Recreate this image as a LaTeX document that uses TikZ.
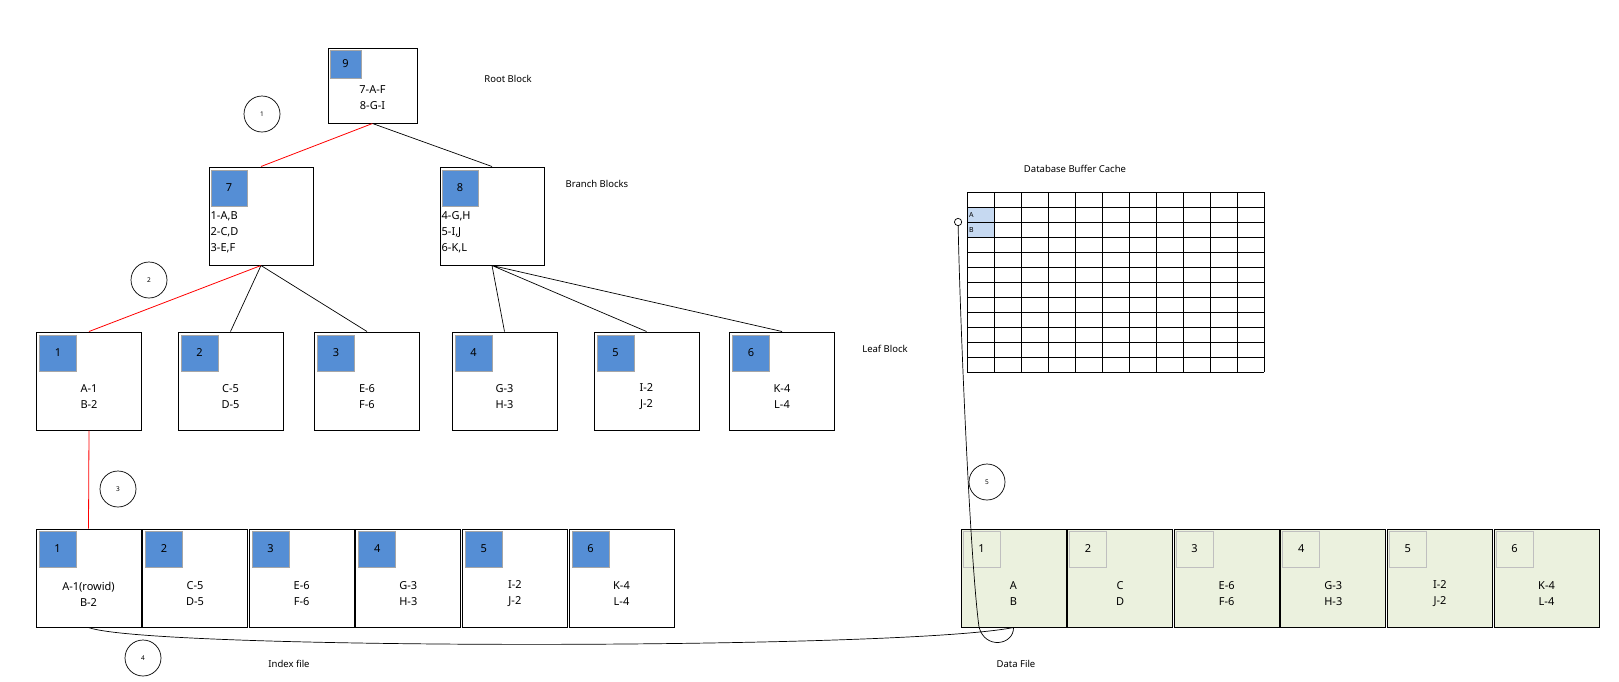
\documentclass[tikz,border=0pt]{standalone}
\usepackage{fontspec}
\setmainfont{Noto Sans}
\usepackage{tikz}
\usetikzlibrary{arrows.meta}
\definecolor{blkblue}{HTML}{558ED5}
\definecolor{numedge}{HTML}{A6A6A6}
\definecolor{datafill}{HTML}{EBF1DE}
\definecolor{cellblue}{HTML}{C6D9F1}

\begin{document}
\begin{tikzpicture}[x=1pt, y=-1pt, node distance=106.6pt, >=stealth,
    every node/.style={font=\fontsize{11}{16}\selectfont},
    blk/.style={draw, line width=1pt, minimum width=105pt, minimum height=98pt, inner sep=0pt},
    datablk/.style={blk, fill=datafill},
    num/.style={fill=blkblue, draw=numedge, line width=0.8pt, minimum width=37pt, minimum height=36pt, inner sep=0pt, anchor=north west},
    datanum/.style={num, fill=none, draw=gray!50},
    body/.style={align=center, inner sep=0pt},
    caption/.style={font=\fontsize{9.5}{11}\selectfont},
    badge/.style={draw, circle, line width=0.7pt, minimum size=36pt, inner sep=0pt, font=\fontsize{6.5}{7}\selectfont},
    cell/.style={fill=cellblue, minimum width=27pt, minimum height=15pt, inner sep=0pt, text width=23pt, font=\fontsize{7}{8}\selectfont},
    tree/.style={draw, line width=0.7pt},
    hot/.style={draw=red, line width=0.8pt}]

\useasboundingbox (0,0) rectangle (1619,681);

% root block
\node[blk, minimum width=89pt, minimum height=75pt] (r9) at (372.5,85.5) {};
\node[num, minimum width=31pt, minimum height=28pt] at ([shift={(2,2)}]r9.north west) {9};
\node[body] at ([yshift=-12.5pt]r9.center) {7-A-F\\8-G-I};

% branch blocks
\node[blk, minimum width=104pt] (b7) at (261,216) {};
\node[num, minimum width=36pt] at ([shift={(2,3)}]b7.north west) {7};
\node[anchor=west, align=left, inner sep=0pt] at ([shift={(2,16)}]b7.west) {1-A,B\\2-C,D\\3-E,F};
\node[blk, minimum width=104pt] (b8) at (492,216) {};
\node[num, minimum width=36pt] at ([shift={(2,3)}]b8.north west) {8};
\node[anchor=west, align=left, inner sep=0pt] at ([shift={(2,16)}]b8.west) {4-G,H\\5-I,J\\6-K,L};

% leaf blocks
\node[blk] (l1) at (89,381) {};
\node[num] at ([shift={(3,3)}]l1.north west) {1};
\node[body] at ([yshift=-16pt]l1.center) {A-1\\B-2};
\node[blk] (l2) at (230.5,381) {};
\node[num] at ([shift={(3,3)}]l2.north west) {2};
\node[body] at ([yshift=-16pt]l2.center) {C-5\\D-5};
\node[blk] (l3) at (367,381) {};
\node[num] at ([shift={(3,3)}]l3.north west) {3};
\node[body] at ([yshift=-16pt]l3.center) {E-6\\F-6};
\node[blk] (l4) at (504.5,381) {};
\node[num] at ([shift={(3,3)}]l4.north west) {4};
\node[body] at ([yshift=-16pt]l4.center) {G-3\\H-3};
\node[blk] (l5) at (646.5,381) {};
\node[num] at ([shift={(3,3)}]l5.north west) {5};
\node[body] at ([yshift=-16pt]l5.center) {I-2\\J-2};
\node[blk] (l6) at (782,381) {};
\node[num] at ([shift={(3,3)}]l6.north west) {6};
\node[body] at ([yshift=-16pt]l6.center) {K-4\\L-4};

% index file
\node[blk] (i1) at (88.5,578) {};
\node[blk, right of=i1] (i2) {};
\node[blk, right of=i2] (i3) {};
\node[blk, right of=i3] (i4) {};
\node[blk, right of=i4] (i5) {};
\node[blk, right of=i5] (i6) {};
\node[num] at ([shift={(3,2)}]i1.north west) {1};
\node[num] at ([shift={(3,2)}]i2.north west) {2};
\node[num] at ([shift={(3,2)}]i3.north west) {3};
\node[num] at ([shift={(3,2)}]i4.north west) {4};
\node[num] at ([shift={(3,2)}]i5.north west) {5};
\node[num] at ([shift={(3,2)}]i6.north west) {6};
\node[body] at ([yshift=-16pt]i1.center) {A-1(rowid)\\B-2};
\node[body] at ([yshift=-16pt]i2.center) {C-5\\D-5};
\node[body] at ([yshift=-16pt]i3.center) {E-6\\F-6};
\node[body] at ([yshift=-16pt]i4.center) {G-3\\H-3};
\node[body] at ([yshift=-16pt]i5.center) {I-2\\J-2};
\node[body] at ([yshift=-16pt]i6.center) {K-4\\L-4};

% data file
\node[datablk] (d1) at (1013.5,578) {};
\node[datablk, right of=d1] (d2) {};
\node[datablk, right of=d2] (d3) {};
\node[datablk, right of=d3] (d4) {};
\node[datablk, right of=d4] (d5) {};
\node[datablk, right of=d5] (d6) {};
\node[datanum] at ([shift={(2,2)}]d1.north west) {1};
\node[datanum] at ([shift={(2,2)}]d2.north west) {2};
\node[datanum] at ([shift={(2,2)}]d3.north west) {3};
\node[datanum] at ([shift={(2,2)}]d4.north west) {4};
\node[datanum] at ([shift={(2,2)}]d5.north west) {5};
\node[datanum] at ([shift={(2,2)}]d6.north west) {6};
\node[body] at ([yshift=-16pt]d1.center) {A\\B};
\node[body] at ([yshift=-16pt]d2.center) {C\\D};
\node[body] at ([yshift=-16pt]d3.center) {E-6\\F-6};
\node[body] at ([yshift=-16pt]d4.center) {G-3\\H-3};
\node[body] at ([yshift=-16pt]d5.center) {I-2\\J-2};
\node[body] at ([yshift=-16pt]d6.center) {K-4\\L-4};

% buffer cache
\node[cell] (ca) at (980.5,214.5) {A};
\node[cell] (cb) at (980.5,229.5) {B};
\foreach \c in {0,...,11}
  \draw[line width=0.8pt] (967+27*\c,192) -- (967+27*\c,372);
\foreach \r in {0,...,12}
  \draw[line width=0.8pt] (967,192+15*\r) -- (1264,192+15*\r);
\coordinate (hit) at (958,218);

% labels
\node[caption] at (508,79) {Root Block};
\node[caption] at (597,184) {Branch Blocks};
\node[caption] at (885,349) {Leaf Block};
\node[caption] at (1075,169) {Database Buffer Cache};
\node[caption] at (289,664) {Index file};
\node[caption] at (1016,664) {Data File};

% steps
\node[badge] (s1) at (262,114) {1};
\node[badge] (s2) at (149,280) {2};
\node[badge] (s3) at (118,489) {3};
\node[badge] (s4) at (143,658) {4};
\node[badge] (s5) at (987,482) {5};

% connectors
\path[hot] (r9.south) -- (b7.north);
\path[tree] (r9.south) -- (b8.north);
\path[hot] (b7.south) -- (l1.north);
\path[tree] (b7.south) -- (l2.north)
            (b7.south) -- (l3.north)
            (b8.south) -- (l4.north)
            (b8.south) -- (l5.north)
            (b8.south) -- (l6.north);
\path[hot] (l1.south) -- (i1.north);
\path[tree] (i1.south) .. controls (150,650) and (900,650) .. (d1.south);
\path[tree, -{Circle[open,length=8pt,width=8pt]}] (d1.south) .. controls (1014,645) and (985,650) .. (979,627)
      .. controls (970,560) and (960,320) .. (hit);
\end{tikzpicture}
\end{document}
